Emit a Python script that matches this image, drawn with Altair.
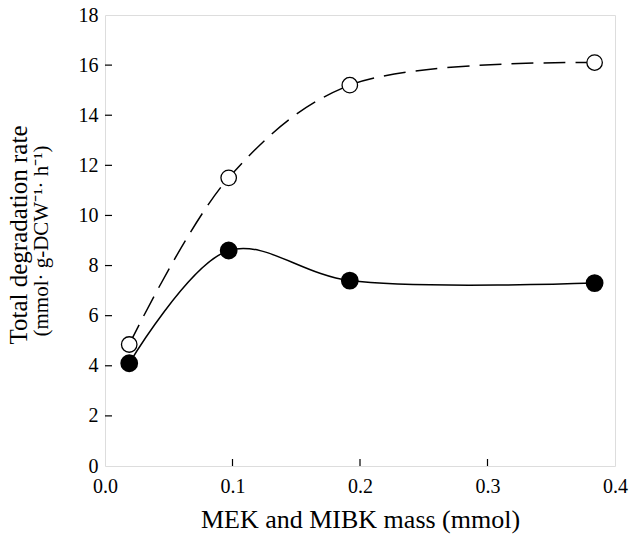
import altair as alt
import pandas as pd

x_mass = [0.019, 0.097, 0.192, 0.384]
open_rate = [4.85, 11.5, 15.2, 16.1]
filled_rate = [4.1, 8.6, 7.4, 7.3]
x_ticks = [0.0, 0.1, 0.2, 0.3, 0.4]
y_ticks = [0, 2, 4, 6, 8, 10, 12, 14, 16, 18]

W, H = 510, 451
FONT = "Liberation Serif, Times New Roman, serif"

df_open = pd.DataFrame({"x": x_mass, "y": open_rate})
df_fill = pd.DataFrame({"x": x_mass, "y": filled_rate})
df_xt = pd.DataFrame({"x": x_ticks[1:-1]})
df_yt = pd.DataFrame({"y": y_ticks[1:-1]})

xs = alt.Scale(domain=[0, 0.4], nice=False)
ys = alt.Scale(domain=[0, 18], nice=False)

xenc = alt.X("x:Q", scale=xs, axis=alt.Axis(
    values=x_ticks, format=".1f", title="MEK and MIBK mass (mmol)",
    tickSize=0, domain=False, grid=False, labelPadding=10,
    labelFontSize=20, titleFontSize=26, titlePadding=10,
    labelFont=FONT, titleFont=FONT, labelColor="black", titleColor="black",
    titleFontWeight="normal", labelFlush=False))
yenc = alt.Y("y:Q", scale=ys, axis=alt.Axis(
    values=y_ticks, title=None, tickSize=0, domain=False, grid=False,
    labelPadding=7, labelFontSize=20, labelFont=FONT, labelColor="black"))

line_open = alt.Chart(df_open).mark_line(
    interpolate="catmull-rom", color="black", strokeWidth=1.5, strokeDash=[22, 10]
).encode(x=xenc, y=yenc)
line_fill = alt.Chart(df_fill).mark_line(
    interpolate="catmull-rom", color="black", strokeWidth=1.5
).encode(x="x:Q", y="y:Q")
pts_open = alt.Chart(df_open).mark_point(
    shape="circle", size=240, filled=True, fill="white", stroke="black", strokeWidth=1.3, opacity=1
).encode(x="x:Q", y="y:Q")
pts_fill = alt.Chart(df_fill).mark_point(
    shape="circle", size=250, filled=True, fill="black", stroke="black", opacity=1
).encode(x="x:Q", y="y:Q")

tick_x = alt.Chart(df_xt).mark_rule(color="black", strokeWidth=1.2).encode(
    x="x:Q", y=alt.value(H), y2=alt.value(H - 7))
tick_y = alt.Chart(df_yt).mark_rule(color="black", strokeWidth=1.2).encode(
    y="y:Q", x=alt.value(0), x2=alt.value(7))

title1 = alt.Chart(pd.DataFrame({"t": ["Total degradation rate"]})).mark_text(
    angle=270, font=FONT, fontSize=25, color="black", baseline="middle", align="center"
).encode(text="t:N", x=alt.value(-86), y=alt.value(220))
title2 = alt.Chart(pd.DataFrame({"t": ["(mmol\u00b7 g-DCW\u207b\u00b9\u00b7 h\u207b\u00b9)"]})).mark_text(
    angle=270, font=FONT, fontSize=21, color="black", baseline="middle", align="center"
).encode(text="t:N", x=alt.value(-63), y=alt.value(226))

chart = alt.layer(line_open, line_fill, pts_open, pts_fill, tick_x, tick_y, title1, title2).properties(
    width=W, height=H,
    autosize=alt.AutoSizeParams(type="none"),
    padding={"left": 105, "top": 15, "right": 14, "bottom": 73},
).configure_view(stroke="black", strokeWidth=1.3).configure(background="white")

chart.save("out.html", embed_options={"renderer": "svg", "actions": False})
